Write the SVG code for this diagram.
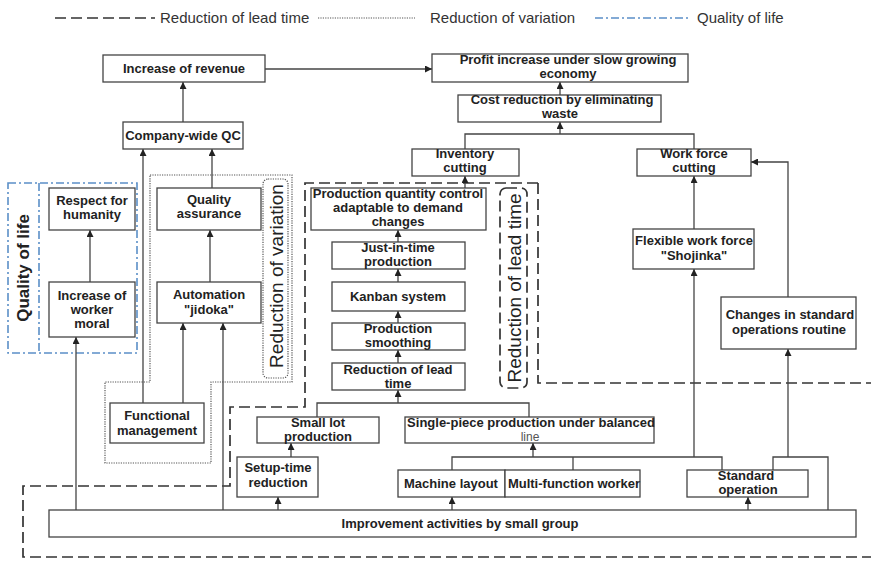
<svg xmlns="http://www.w3.org/2000/svg" width="871" height="561" viewBox="0 0 871 561">
  <style>
    .box { fill: #fff; stroke: #444; stroke-width: 1.3; }
    .lbl { font-family: "Liberation Sans", Arial, sans-serif; font-size: 13px; font-weight: bold; fill: #222; text-anchor: middle; }
    .thin { font-weight: normal; font-size: 12px; fill: #555; }
    .leg { font-family: "Liberation Sans", Arial, sans-serif; font-size: 15px; fill: #333; }
    .side { font-family: "Liberation Sans", Arial, sans-serif; font-size: 19px; fill: #222; text-anchor: middle; }
    .conn { fill: none; stroke: #444; stroke-width: 1.3; }
    .arr { marker-end: url(#head); }
    .dash { fill: none; stroke: #333; stroke-width: 1.7; stroke-dasharray: 11 5; }
    .dot { fill: none; stroke: #555; stroke-width: 1.2; stroke-dasharray: 1.2 1.2; }
    .dashdot { fill: none; stroke: #5b8fc7; stroke-width: 1.6; stroke-dasharray: 8 3 2 3; }
  </style>
  <defs>
    <marker id="head" viewBox="0 0 8 8" refX="8" refY="4" markerWidth="7" markerHeight="7" markerUnits="userSpaceOnUse" orient="auto">
      <path d="M0,0 L8,4 L0,8 Z" fill="#222"/>
    </marker>
  </defs>
  <rect width="871" height="561" fill="#fff"/>

  <!-- legend -->
  <g id="legend">
    <path class="dash" d="M55,18 H155"/>
    <text class="leg" x="160" y="23">Reduction of lead time</text>
    <path class="dot" d="M318,18 H415"/>
    <text class="leg" x="430" y="23">Reduction of variation</text>
    <path class="dashdot" d="M595,18 H690"/>
    <text class="leg" x="697" y="23">Quality of life</text>
  </g>

  <!-- grouping regions -->
  <g id="regions">
    <path class="dash" d="M538,183 H305 V407 H230 V486 H23 V557 H880"/>
    <path class="dash" d="M538,183 V383 H880"/>
    <rect class="dash" x="500" y="188" width="27" height="200" rx="6"/>
    <text class="side" transform="translate(521,288) rotate(-90)">Reduction of lead time</text>

    <path class="dot" d="M150,175 H292 V382 H211 V463 H105 V382 H150 Z"/>
    <rect class="dot" x="263" y="179" width="25" height="199" rx="5"/>
    <text class="side" transform="translate(283,276) rotate(-90)">Reduction of variation</text>

    <rect class="dashdot" x="8" y="183" width="129" height="170"/>
    <path class="dashdot" d="M39,183 V353"/>
    <text class="side" style="font-weight:bold;font-size:17px" transform="translate(29,268) rotate(-90)">Quality of life</text>
  </g>

  <!-- connectors -->
  <g id="connectors">
    <path class="conn arr" d="M265,69 H432"/>
    <path class="conn arr" d="M560,95 V82"/>
    <path class="conn" d="M465,149 V134 H694 V149"/>
    <path class="conn arr" d="M560,134 V122"/>
    <path class="conn arr" d="M694,229 V176"/>
    <path class="conn arr" d="M788,297 V162 H751"/>
    <path class="conn arr" d="M465,188 V176"/>
    <path class="conn arr" d="M398,242 V230"/>
    <path class="conn arr" d="M398,282 V269"/>
    <path class="conn arr" d="M398,323 V311"/>
    <path class="conn arr" d="M398,363 V350"/>
    <path class="conn" d="M317,417 V403 H529 V417"/>
    <path class="conn arr" d="M398,403 V390"/>
    <path class="conn arr" d="M291,457 V443"/>
    <path class="conn arr" d="M278,510 V497"/>
    <path class="conn arr" d="M452,510 V497"/>
    <path class="conn arr" d="M748,510 V497"/>
    <path class="conn" d="M452,470 V457 H722 V470"/>
    <path class="conn" d="M573,470 V457"/>
    <path class="conn arr" d="M533,457 V443"/>
    <path class="conn arr" d="M694,457 V269"/>
    <path class="conn" d="M773,470 V457 H828 V510"/>
    <path class="conn arr" d="M788,457 V349"/>
    <path class="conn arr" d="M76,510 V337"/>
    <path class="conn arr" d="M90,282 V230"/>
    <path class="conn arr" d="M210,282 V230"/>
    <path class="conn arr" d="M212,188 V149"/>
    <path class="conn arr" d="M143,403 V149"/>
    <path class="conn arr" d="M183,403 V323"/>
    <path class="conn arr" d="M223,510 V323"/>
    <path class="conn arr" d="M183,122 V82"/>
  </g>

  <!-- nodes -->
  <g id="revenue"><rect class="box" x="103" y="55" width="162" height="27"/><text class="lbl" x="184" y="73">Increase of revenue</text></g>
  <g id="profit"><rect class="box" x="432" y="54" width="256" height="28"/><text class="lbl" x="568" y="64">Profit increase under slow growing</text><text class="lbl" x="568" y="78">economy</text></g>
  <g id="cost"><rect class="box" x="458" y="95" width="203" height="27"/><text class="lbl" x="562" y="104">Cost reduction by eliminating</text><text class="lbl" x="560" y="118">waste</text></g>
  <g id="inventory"><rect class="box" x="412" y="149" width="107" height="27"/><text class="lbl" x="465" y="158">Inventory</text><text class="lbl" x="465" y="172">cutting</text></g>
  <g id="workforce"><rect class="box" x="637" y="149" width="114" height="27"/><text class="lbl" x="694" y="158">Work force</text><text class="lbl" x="694" y="172">cutting</text></g>
  <g id="flexible"><rect class="box" x="633" y="229" width="121" height="40"/><text class="lbl" x="694" y="245">Flexible work force</text><text class="lbl" x="694" y="260">"Shojinka"</text></g>
  <g id="changes"><rect class="box" x="721" y="297" width="135" height="52"/><text class="lbl" x="790" y="319">Changes in standard</text><text class="lbl" x="789" y="334">operations routine</text></g>
  <g id="prodqty"><rect class="box" x="311" y="188" width="175" height="42"/><text class="lbl" x="398" y="198">Production quantity control</text><text class="lbl" x="398" y="212">adaptable to demand</text><text class="lbl" x="398" y="226">changes</text></g>
  <g id="jit"><rect class="box" x="332" y="242" width="133" height="27"/><text class="lbl" x="398" y="252">Just-in-time</text><text class="lbl" x="398" y="266">production</text></g>
  <g id="kanban"><rect class="box" x="332" y="282" width="133" height="29"/><text class="lbl" x="398" y="301">Kanban system</text></g>
  <g id="smoothing"><rect class="box" x="332" y="323" width="133" height="27"/><text class="lbl" x="398" y="333">Production</text><text class="lbl" x="398" y="347">smoothing</text></g>
  <g id="leadtime"><rect class="box" x="332" y="363" width="133" height="27"/><text class="lbl" x="398" y="374">Reduction of lead</text><text class="lbl" x="398" y="388">time</text></g>
  <g id="smalllot"><rect class="box" x="257" y="417" width="122" height="26"/><text class="lbl" x="318" y="427">Small lot</text><text class="lbl" x="318" y="441">production</text></g>
  <g id="singlepiece"><rect class="box" x="405" y="417" width="249" height="26"/><text class="lbl" x="531" y="427">Single-piece production under balanced</text><text class="lbl thin" x="530" y="441">line</text></g>
  <g id="setup"><rect class="box" x="237" y="457" width="81" height="40"/><text class="lbl" x="278" y="472">Setup-time</text><text class="lbl" x="278" y="487">reduction</text></g>
  <g id="machine"><rect class="box" x="398" y="470" width="107" height="27"/><text class="lbl" x="451" y="488">Machine layout</text></g>
  <g id="multifunction"><rect class="box" x="505" y="470" width="135" height="27"/><text class="lbl" x="574" y="488">Multi-function worker</text></g>
  <g id="standard"><rect class="box" x="687" y="470" width="121" height="27"/><text class="lbl" x="746" y="480">Standard</text><text class="lbl" x="748" y="494">operation</text></g>
  <g id="improvement"><rect class="box" x="49" y="510" width="807" height="27"/><text class="lbl" x="460" y="528">Improvement activities by small group</text></g>
  <g id="companyqc"><rect class="box" x="123" y="122" width="120" height="27"/><text class="lbl" x="183" y="140">Company-wide QC</text></g>
  <g id="respect"><rect class="box" x="49" y="188" width="86" height="42"/><text class="lbl" x="92" y="205">Respect for</text><text class="lbl" x="92" y="219">humanity</text></g>
  <g id="workermoral"><rect class="box" x="49" y="282" width="86" height="55"/><text class="lbl" x="92" y="300">Increase of</text><text class="lbl" x="92" y="314">worker</text><text class="lbl" x="92" y="328">moral</text></g>
  <g id="quality"><rect class="box" x="157" y="188" width="104" height="42"/><text class="lbl" x="209" y="204">Quality</text><text class="lbl" x="209" y="218">assurance</text></g>
  <g id="automation"><rect class="box" x="157" y="282" width="104" height="41"/><text class="lbl" x="209" y="299">Automation</text><text class="lbl" x="209" y="314">"jidoka"</text></g>
  <g id="functional"><rect class="box" x="110" y="403" width="94" height="40"/><text class="lbl" x="157" y="420">Functional</text><text class="lbl" x="157" y="435">management</text></g>
</svg>
